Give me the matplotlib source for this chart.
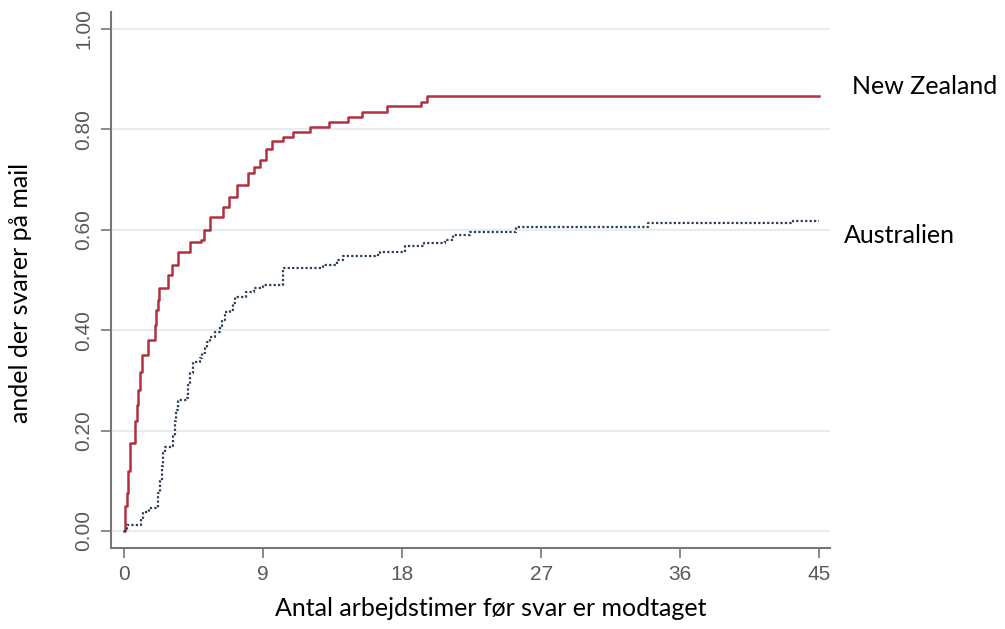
import numpy as np
import matplotlib.pyplot as plt

# step points (hours, share answered)
nz_t = [0, 0.1, 0.17, 0.27, 0.39, 0.71, 0.82, 0.9, 1.04, 1.14, 1.57, 2.0, 2.1, 2.2,
        2.3, 2.86, 3.1, 3.5, 4.27, 5.0, 5.2, 5.57, 6.4, 6.8, 7.3, 8.0, 8.4, 8.8,
        9.2, 9.57, 10.3, 10.95, 12.05, 13.3, 14.5, 15.4, 17.0, 19.2, 19.6, 45]
nz_y = [0, 0.05, 0.076, 0.12, 0.175, 0.22, 0.25, 0.28, 0.317, 0.35, 0.38, 0.41, 0.44,
        0.46, 0.484, 0.51, 0.53, 0.556, 0.576, 0.58, 0.60, 0.626, 0.645, 0.665, 0.69,
        0.713, 0.725, 0.74, 0.76, 0.776, 0.785, 0.795, 0.805, 0.815, 0.825, 0.835,
        0.847, 0.855, 0.866, 0.866]

au_t = [0, 0.17, 1.1, 1.25, 1.6, 2.2, 2.35, 2.44, 2.53, 2.65, 3.1, 3.2, 3.3, 3.4, 3.5,
        4.06, 4.15, 4.27, 4.47, 4.9, 5.05, 5.24, 5.4, 5.57, 5.9, 6.2, 6.35, 6.54, 6.87,
        7.05, 7.2, 7.9, 8.4, 9.0, 10.3, 12.9, 13.8, 14.2, 16.25, 16.6, 18.2, 19.4,
        20.8, 21.3, 22.4, 25.4, 33.9, 43.3, 45]
au_y = [0, 0.012, 0.025, 0.038, 0.045, 0.075, 0.10, 0.13, 0.155, 0.168, 0.17, 0.19,
        0.22, 0.24, 0.26, 0.265, 0.29, 0.315, 0.337, 0.345, 0.355, 0.365, 0.377, 0.387,
        0.397, 0.406, 0.42, 0.437, 0.44, 0.455, 0.466, 0.477, 0.484, 0.49, 0.524,
        0.53, 0.54, 0.548, 0.55, 0.556, 0.568, 0.573, 0.58, 0.59, 0.596, 0.606,
        0.613, 0.618, 0.618]

x_ticks = [0, 9, 18, 27, 36, 45]
y_ticks = [0.0, 0.2, 0.4, 0.6, 0.8, 1.0]
y_ticklabels = ["0.00", "0.20", "0.40", "0.60", "0.80", "1.00"]

fig = plt.figure(figsize=(10.05, 6.29), dpi=100)
ax = fig.add_axes([0.1104, 0.1288, 0.7155, 0.8522])

for yv in y_ticks:
    ax.axhline(yv, color="#e4eeee", lw=1.6, zorder=0)

ax.step(nz_t, nz_y, where="post", color="#b3303f", lw=1.8)
ax.step(au_t, au_y, where="post", color="#2c3e55", lw=1.6, linestyle=(0, (1, 1)))

ax.set_xlim(-0.84, 45.7)
ax.set_ylim(-0.034, 1.034)
ax.set_xticks(x_ticks)
ax.set_yticks(y_ticks)
ax.set_yticklabels(y_ticklabels, rotation=90, va="center")
ax.tick_params(colors="#777777", labelcolor="#5a5a5a", length=7, width=1.2,
               labelsize=15)
ax.tick_params(axis="x", pad=5)
ax.tick_params(axis="y", pad=6)
for lab in ax.get_xticklabels() + ax.get_yticklabels():
    lab.set_family("Liberation Sans")

for s in ["top", "right"]:
    ax.spines[s].set_visible(False)
for s in ["left", "bottom"]:
    ax.spines[s].set_color("#777777")
    ax.spines[s].set_linewidth(1.5)

fig.text(0.488, 0.033, "Antal arbejdstimer før svar er modtaget", family="Lato",
         fontsize=18, ha="center", va="center")
fig.text(0.02, 0.535, "andel der svarer på mail", family="Lato", fontsize=18,
         rotation=90, ha="center", va="center")
fig.text(0.848, 0.863, "New Zealand", family="Lato", fontsize=18, va="center")
fig.text(0.840, 0.626, "Australien", family="Lato", fontsize=18, va="center")

fig.savefig("out.png", dpi=100)
